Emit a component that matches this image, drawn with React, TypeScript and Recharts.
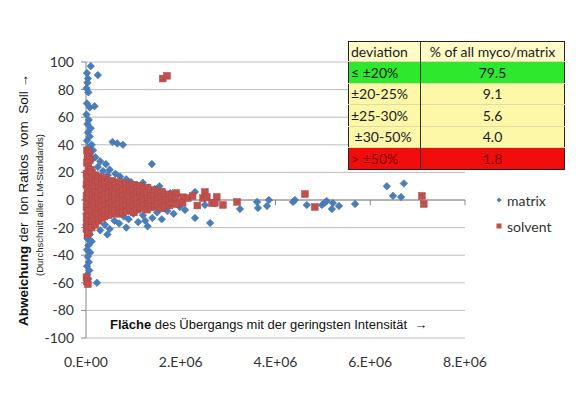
import React from "react";
import {
  ScatterChart,
  Scatter,
  XAxis,
  YAxis,
  CartesianGrid,
  ReferenceLine,
  Legend,
} from "recharts";

const xTicks = [0, 2e6, 4e6, 6e6, 8e6];
const yTicks = [-100, -80, -60, -40, -20, 0, 20, 40, 60, 80, 100];

// [area, deviation %]
const matrixPoints: [number, number][] = [
  [1.0e5, 97], [2.5e5, 90.5], [2e4, 92], [4e4, 88], [3e4, 85], [1e4, 81], [5e4, 78],
  [2e4, 70], [8e4, 67], [1.8e5, 68], [1e4, 62], [6e4, 58], [3e4, 55], [1.0e5, 52],
  [4e4, 49], [8e4, 46], [2e4, 43], [1.2e5, 40], [5e4, 38], [1.5e5, 36], [8e4, 33],
  [5.6e5, 42], [6.6e5, 41], [7.8e5, 40], [1.39e6, 26],
  [2.0e5, 31], [3.0e5, 28], [4.2e5, 26], [2.5e5, 24], [5.0e5, 22], [3.6e5, 21],
  [6.2e5, 19], [7.2e5, 17], [4.6e5, 18], [1.2e5, 29], [8.5e5, 15],
  [9.5e5, 13], [1.08e6, 11], [1.2e6, 12.5], [1.32e6, 9], [1.45e6, 8], [1.55e6, 10],
  [1.63e6, 6], [1.78e6, 5], [1.92e6, 4],
  [3.0e5, -22], [4.0e5, -18], [5.0e5, -21], [6.0e5, -15], [7.0e5, -17], [8.0e5, -12],
  [9.0e5, -14], [1.0e6, -10], [1.1e6, -16], [1.2e6, -11], [1.3e6, -19], [1.4e6, -13],
  [1.5e6, -9], [1.6e6, -14], [1.72e6, -8], [4.5e5, -25], [8.5e5, -20], [1.25e6, -15],
  [1.85e6, -10],
  [2e4, -22], [8e4, -25], [3e4, -28], [1.2e5, -30], [5e4, -33], [2e4, -36], [9e4, -38],
  [4e4, -41], [6e4, -45], [2e4, -48], [7e4, -51], [3e4, -54], [5e4, -57], [2.3e5, -60],
  [5e3, 20], [5e3, 10], [5e3, 0], [5e3, -10], [5e3, -18],
  [2.3e6, 5.8], [2.51e6, -3.6], [3.25e6, -6.5], [2.3e6, -13], [2.62e6, -16.7],
  [3.61e6, -1.4], [3.63e6, -5.8], [3.82e6, -4.3], [3.86e6, 0], [2.09e6, -7.2], [1.98e6, -5],
  [4.37e6, -1.4], [4.41e6, 0], [4.66e6, -3.6], [4.98e6, -3.6], [5.04e6, -2], [5.08e6, -0.7],
  [5.19e6, -6.5], [5.21e6, -2.2], [5.34e6, -4.3], [5.68e6, -2.9], [6.35e6, 10], [6.71e6, 12],
  [6.48e6, 3], [6.65e6, 2.2],
];

const solventPoints: [number, number][] = [
  [1.62e6, 88], [1.71e6, 90],
  [1e4, -56], [2e4, -59], [4e4, -61],
  [2e4, 36], [6e4, 34], [3e4, 31], [8e4, 29], [2e4, 27], [5e4, 24], [1.0e5, 22],
  [1e4, 19], [2e4, 15], [1e4, 11], [3e4, 7], [1e4, 3], [2e4, -1], [1e4, -5], [3e4, -9],
  [1e4, -13], [2e4, -17], [1e4, -21], [3e4, -25],
  [6e4, 17], [7e4, 13], [6e4, 9], [7e4, 5], [6e4, 1], [7e4, -3], [6e4, -7], [7e4, -11],
  [6e4, -15], [7e4, -19], [6e4, -23],
  [1.3e5, 20], [1.2e5, 16], [1.4e5, 12], [1.3e5, 8], [1.2e5, 4], [1.4e5, 0], [1.3e5, -4],
  [1.2e5, -8], [1.4e5, -12], [1.3e5, -16], [1.2e5, -20],
  [1.95e5, 18], [2.0e5, 14], [1.9e5, 10], [1.95e5, 6], [2.0e5, 2], [1.9e5, -2],
  [1.95e5, -6], [2.0e5, -10], [1.9e5, -14], [1.95e5, -18],
  [2.6e5, 17], [2.5e5, 13], [2.7e5, 9], [2.6e5, 5], [2.5e5, 1], [2.7e5, -3], [2.6e5, -7],
  [2.5e5, -11], [2.7e5, -15],
  [3.3e5, 15], [3.4e5, 11], [3.2e5, 7], [3.3e5, 3], [3.4e5, -1], [3.2e5, -5], [3.3e5, -9],
  [3.4e5, -13],
  [4.0e5, 16], [3.9e5, 12], [4.1e5, 8], [4.0e5, 4], [3.9e5, 0], [4.1e5, -4], [4.0e5, -8],
  [3.9e5, -12],
  [4.75e5, 13], [4.8e5, 9], [4.7e5, 5], [4.75e5, 1], [4.8e5, -3], [4.7e5, -7], [4.75e5, -11],
  [5.5e5, 14], [5.4e5, 10], [5.6e5, 6], [5.5e5, 2], [5.4e5, -2], [5.6e5, -6], [5.5e5, -10],
  [6.2e5, 12], [6.3e5, 8], [6.1e5, 4], [6.2e5, 0], [6.3e5, -4], [6.1e5, -8],
  [7.0e5, 13], [6.9e5, 9], [7.1e5, 5], [7.0e5, 1], [6.9e5, -3], [7.1e5, -7], [7.0e5, -10],
  [7.75e5, 11], [7.8e5, 7], [7.7e5, 3], [7.75e5, -1], [7.8e5, -5], [7.7e5, -9],
  [8.5e5, 12], [8.4e5, 8], [8.6e5, 4], [8.5e5, 0], [8.4e5, -4], [8.6e5, -8],
  [9.2e5, 10], [9.3e5, 6], [9.1e5, 2], [9.2e5, -2], [9.3e5, -6],
  [1.0e6, 11], [9.9e5, 7], [1.01e6, 3], [1.0e6, -1], [9.9e5, -5], [1.01e6, -9],
  [1.07e6, 9], [1.08e6, 5], [1.06e6, 1], [1.07e6, -3], [1.08e6, -7],
  [1.15e6, 10], [1.14e6, 6], [1.16e6, 2], [1.15e6, -2], [1.14e6, -6],
  [1.22e6, 8], [1.23e6, 4], [1.21e6, 0], [1.22e6, -4],
  [1.3e6, 9], [1.29e6, 5], [1.31e6, 1], [1.3e6, -3], [1.29e6, -7],
  [1.37e6, 7], [1.38e6, 3], [1.36e6, -1], [1.37e6, -5],
  [1.45e6, 7], [1.44e6, 3], [1.46e6, -1], [1.45e6, -5],
  [1.52e6, 5], [1.53e6, 1], [1.51e6, -3],
  [1.6e6, 6], [1.59e6, 2], [1.61e6, -2], [1.6e6, -6],
  [1.67e6, 4], [1.68e6, 0], [1.66e6, -4],
  [1.75e6, 4], [1.74e6, 0], [1.76e6, -4],
  [1.82e6, 2], [1.83e6, -2],
  [1.9e6, 5], [1.89e6, 1], [1.91e6, -3],
  [2.05e6, 2], [2.04e6, -2],
  [2.15e6, 1.4], [2.47e6, 1.4], [2.51e6, 5.8], [2.55e6, 2.2], [2.66e6, -2.2], [2.76e6, 2.2],
  [2.72e6, -2.2], [2.89e6, -3.6], [3.19e6, -1.4], [2.35e6, -4], [2.25e6, 3],
  [4.62e6, 4.3], [4.83e6, -5], [7.09e6, 3], [7.13e6, -2.9],
];

const deviationBands = ["≤ ±20%", "±20-25%", "±25-30%", "\u00a0±30-50%", "> ±50%"];
const bandShares = [79.5, 9.1, 5.6, 4.0, 1.8];
const bandColors = ["#2ee82e", "#fdf7a8", "#fdf7a8", "#fdf7a8", "#f20d0d"];
const bandText = ["#1a1a1a", "#1a1a1a", "#1a1a1a", "#1a1a1a", "#7a0000"];

const matrixData = matrixPoints.map(([x, y]) => ({ x, y }));
const solventData = solventPoints.map(([x, y]) => ({ x, y }));

const BLUE = "#4a7ebb";
const RED = "#c0504d";

function formatSci(v: number) {
  if (v === 0) return "0.E+00";
  const e = Math.floor(Math.log10(v));
  const m = Math.round(v / 10 ** e);
  return `${m}.E+${String(e).padStart(2, "0")}`;
}

function Diamond({ cx, cy }: { cx?: number; cy?: number }) {
  if (cx == null || cy == null) return null;
  const r = 3.8;
  return (
    <path
      d={`M${cx},${cy - r}L${cx + r},${cy}L${cx},${cy + r}L${cx - r},${cy}Z`}
      fill={BLUE}
      stroke="#3d6ca6"
      strokeWidth={0.5}
    />
  );
}

function Square({ cx, cy }: { cx?: number; cy?: number }) {
  if (cx == null || cy == null) return null;
  const s = 3.4;
  return (
    <rect x={cx - s} y={cy - s} width={s * 2} height={s * 2} fill={RED} stroke="#b04845" strokeWidth={0.5} />
  );
}

function LegendBox() {
  const items = [
    { label: "matrix", icon: <path d="M4,1.5L6.5,4L4,6.5L1.5,4Z" fill={BLUE} /> },
    { label: "solvent", icon: <rect x={1.5} y={1.5} width={5} height={5} fill={RED} /> },
  ];
  return (
    <div style={{ fontFamily: "Lato", fontSize: 14, color: "#333" }}>
      {items.map((it) => (
        <div key={it.label} style={{ display: "flex", alignItems: "center", height: 26 }}>
          <svg width={8} height={8} style={{ marginRight: 4 }}>
            {it.icon}
          </svg>
          {it.label}
        </div>
      ))}
    </div>
  );
}

export default function App() {
  return (
    <div style={{ position: "relative", width: 580, height: 409, background: "#fff" }}>
      <style>{"body{margin:0}"}</style>
      <ScatterChart width={580} height={409} margin={{ top: 62, right: 115, bottom: 31, left: 0 }}>
        <CartesianGrid horizontal vertical={false} stroke="#bcbcbc" />
        <XAxis
          type="number"
          dataKey="x"
          domain={[0, 8e6]}
          ticks={xTicks}
          tickFormatter={formatSci}
          axisLine={false}
          tickLine={false}
          tickSize={6}
          tickMargin={13}
          height={40}
          tick={{ fontFamily: "Lato", fontSize: 14, fill: "#333" }}
        />
        <YAxis
          type="number"
          dataKey="y"
          domain={[-100, 100]}
          ticks={yTicks}
          width={86}
          axisLine={{ stroke: "#8a8a8a" }}
          tickLine={{ stroke: "#8a8a8a" }}
          tickSize={5}
          tickMargin={7}
          tick={{ fontFamily: "Lato", fontSize: 14, fill: "#333" }}
        />
        <ReferenceLine y={0} stroke="#8a8a8a" />
        {xTicks.slice(1).map((t) => (
          <ReferenceLine
            key={t}
            segment={[
              { x: t, y: 0 },
              { x: t, y: -3.8 },
            ]}
            stroke="#8a8a8a"
          />
        ))}
        <Legend
          layout="vertical"
          align="center"
          verticalAlign="middle"
          content={<LegendBox />}
          wrapperStyle={{ left: 495, top: 187, width: 80 }}
        />
        <Scatter name="matrix" data={matrixData} shape={<Diamond />} isAnimationActive={false} />
        <Scatter name="solvent" data={solventData} shape={<Square />} isAnimationActive={false} />
      </ScatterChart>

      {/* y axis title */}
      <div
        style={{
          position: "absolute",
          left: 24 - 140,
          top: 200 - 9,
          width: 280,
          height: 18,
          transform: "rotate(-90deg)",
          textAlign: "center",
          fontFamily: "Liberation Sans",
          fontSize: 13.5,
          lineHeight: "18px",
          color: "#111",
          whiteSpace: "pre",
        }}
      >
        <b>Abweichung</b>
        {" der  Ion Ratios  vom  Soll \u2192"}
      </div>
      <div
        style={{
          position: "absolute",
          left: 40 - 100,
          top: 205 - 6,
          width: 200,
          height: 12,
          transform: "rotate(-90deg)",
          textAlign: "center",
          fontFamily: "Liberation Sans",
          fontSize: 9.5,
          lineHeight: "12px",
          color: "#222",
        }}
      >
        (Durchschnitt aller LM-Standards)
      </div>

      {/* x axis title */}
      <div
        style={{
          position: "absolute",
          left: 110,
          top: 317,
          fontFamily: "Liberation Sans",
          fontSize: 13,
          lineHeight: "16px",
          color: "#111",
          whiteSpace: "pre",
        }}
      >
        <b>Fläche</b>
        {" des Übergangs mit der geringsten Intensität  \u2192"}
      </div>

      {/* deviation table */}
      <table
        style={{
          position: "absolute",
          left: 348,
          top: 41,
          width: 217,
          borderCollapse: "collapse",
          border: "1.5px solid #222",
          fontFamily: "Lato",
          fontSize: 14,
          color: "#1a1a1a",
        }}
      >
        <thead>
          <tr style={{ background: "#fffcc8", height: 20 }}>
            <td style={{ padding: "0 2px", borderRight: "1.5px solid #333", width: 67 }}>deviation</td>
            <td style={{ padding: "0 2px", textAlign: "center" }}>% of all myco/matrix</td>
          </tr>
        </thead>
        <tbody>
          {deviationBands.map((band, i) => (
            <tr key={band} style={{ background: bandColors[i], height: 21.5, color: bandText[i] }}>
              <td style={{ padding: "0 2px", borderRight: "1.5px solid #333", borderTop: "1px solid #e2dca0", whiteSpace: "pre" }}>
                {band}
              </td>
              <td style={{ padding: 0, textAlign: "center", borderTop: "1px solid #e2dca0" }}>
                {bandShares[i].toFixed(1)}
              </td>
            </tr>
          ))}
        </tbody>
      </table>
    </div>
  );
}
